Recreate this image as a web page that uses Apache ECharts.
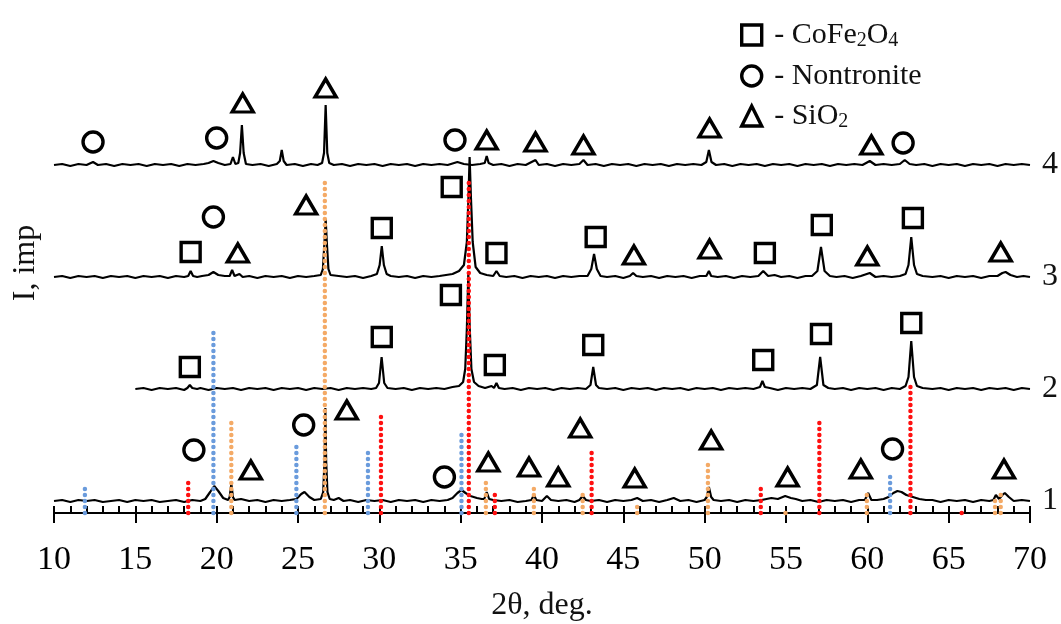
<!DOCTYPE html>
<html>
<head>
<meta charset="utf-8">
<script src="https://cdn.jsdelivr.net/npm/echarts@6/dist/echarts.min.js"></script>
<style>html,body{margin:0;padding:0;background:#fff;}#chart{width:1061px;height:624px;}</style>
</head>
<body>
<div id="chart"></div>
<script>
// ---- axis ----
const xTickLabels = [10, 15, 20, 25, 30, 35, 40, 45, 50, 55, 60, 65, 70];

// ---- trace names and vertical stacking offsets (intensity units) ----
const traceNames = ['1', '2', '3', '4'];
const traceOffsets = [12, 124, 236, 348];

// ---- diffractograms: [2theta, intensity above own baseline] ----
const trace1 = [[10,0],[10.5,1],[11,-1],[11.5,1],[12,0],[12.5,1],[13,-1],[13.5,0],[14,1],[14.5,-1],[15,1],[15.5,0],[16,1],[16.5,-1],[17,0],[17.5,1],[18,-1],[18.5,1],[19,0],[19.3,2],[19.6,9],[19.85,15],[20.1,10],[20.4,3],[20.7,1],[20.8,4],[20.9,17],[21.0,4],[21.1,1],[21.5,2],[22,0],[22.5,1],[23,-1],[23.5,1],[24,0],[24.5,1],[24.9,2],[25.2,7],[25.4,9],[25.7,4],[26,1],[26.4,2],[26.55,9],[26.63,40],[26.68,93],[26.73,40],[26.81,9],[26.95,2],[27.2,1],[27.5,3],[27.8,0],[28.2,1],[28.7,-1],[29.2,1],[29.7,0],[30.2,1],[30.7,-1],[31.2,1],[31.7,0],[32.2,1],[32.7,-1],[33.2,1],[33.7,0],[34.2,1],[34.5,3],[34.8,8],[35.05,11],[35.3,8],[35.6,5],[36,3],[36.3,2],[36.45,2],[36.6,9],[36.75,2],[37,1],[37.5,0],[38,1],[38.5,-1],[39,0],[39.35,1],[39.5,6],[39.65,1],[40,0],[40.3,5],[40.55,1],[41,0],[41.5,1],[42,-1],[42.3,1],[42.5,5],[42.7,1],[43,0],[43.5,1],[44,-1],[44.5,1],[45,0],[45.5,1],[45.85,3],[46.2,0],[46.7,1],[47.2,-1],[47.7,1],[48.1,3],[48.5,0],[49,1],[49.5,-1],[50,1],[50.13,4],[50.26,14],[50.4,4],[50.55,1],[51,0],[51.5,1],[52,-1],[52.5,1],[53,0],[53.5,1],[54.1,3],[54.5,2],[54.95,5],[55.3,3],[55.6,2],[56,0],[56.5,1],[57,-1],[57.5,1],[58,0],[58.5,1],[59,-1],[59.5,1],[59.85,1],[60.05,8],[60.25,1],[60.6,1],[61,2],[61.3,4],[61.6,8],[61.85,10],[62.1,9],[62.4,6],[62.8,4],[63.2,2],[63.6,1],[64,1],[64.5,-1],[65,1],[65.5,0],[66,1],[66.5,-1],[67,1],[67.5,0],[67.75,1],[67.9,6],[68.1,2],[68.3,6],[68.45,8],[68.7,4],[69,0],[69.5,1],[70,0]];
const trace2 = [[15,0],[15.5,1],[16,-1],[16.5,1],[17,0],[17.5,1],[18,-1],[18.2,1],[18.35,4],[18.5,1],[18.8,0],[19,1],[19.5,-1],[20,1],[20.5,0],[21,1],[21.5,-1],[22,1],[22.5,0],[23,1],[23.5,-1],[24,1],[24.5,0],[25,1],[25.5,-1],[26,1],[26.5,0],[27,1],[27.5,-1],[28,1],[28.5,0],[29,1],[29.5,0],[29.8,1],[29.98,6],[30.14,32],[30.3,6],[30.5,1],[31,0],[31.5,1],[32,-1],[32.5,1],[33,0],[33.5,1],[34,0],[34.5,2],[34.9,3],[35.15,7],[35.28,20],[35.38,60],[35.47,115],[35.56,60],[35.66,20],[35.82,7],[36.1,3],[36.5,1],[36.9,3],[37.05,1],[37.2,6],[37.35,1],[37.7,0],[38.2,1],[38.7,-1],[39.2,1],[39.7,0],[40.2,1],[40.7,-1],[41.2,1],[41.7,0],[42.2,1],[42.7,0],[42.98,4],[43.15,22],[43.32,4],[43.5,1],[44,0],[44.5,1],[45,-1],[45.5,1],[46,0],[46.5,1],[47,-1],[47.5,1],[48,0],[48.5,1],[49,-1],[49.5,1],[50,0],[50.5,1],[51,-1],[51.5,1],[52,0],[52.5,1],[53,0],[53.4,2],[53.55,8],[53.7,2],[54,1],[54.5,-1],[55,1],[55.5,0],[56,1],[56.5,0],[56.9,4],[57.1,32],[57.3,4],[57.6,1],[58,0],[58.5,1],[59,-1],[59.5,1],[60,0],[60.5,1],[61,-1],[61.5,1],[62,0],[62.35,3],[62.53,12],[62.7,48],[62.87,12],[63.05,3],[63.4,1],[64,0],[64.5,1],[65,-1],[65.5,1],[66,0],[66.5,1],[67,-1],[67.5,1],[68,0],[68.5,1],[69,-1],[69.5,1],[70,0]];
const trace3 = [[10,0],[10.5,1],[11,-1],[11.5,1],[12,0],[12.5,1],[13,-1],[13.5,1],[14,0],[14.5,1],[15,-1],[15.5,1],[16,0],[16.5,1],[17,-1],[17.5,1],[18,0],[18.25,1],[18.4,6],[18.55,1],[18.8,0],[19.1,1],[19.5,2],[19.8,5],[20.1,2],[20.5,1],[20.8,1],[20.95,7],[21.1,1],[21.4,3],[21.6,0],[22,1],[22.5,-1],[23,1],[23.5,0],[24,1],[24.5,-1],[25,1],[25.5,0],[26,1],[26.4,2],[26.53,8],[26.63,35],[26.7,58],[26.77,35],[26.87,8],[27,2],[27.5,1],[28,0],[28.5,1],[29,-1],[29.5,1],[29.85,3],[30.02,12],[30.15,31],[30.28,12],[30.45,3],[30.7,1],[31.2,0],[31.7,1],[32.2,-1],[32.7,1],[33.2,0],[33.7,1],[34.1,2],[34.5,3],[34.9,6],[35.2,12],[35.38,35],[35.48,80],[35.55,120],[35.63,80],[35.74,35],[35.92,10],[36.2,4],[36.6,2],[37,1],[37.2,6],[37.4,1],[37.8,0],[38.3,1],[38.8,-1],[39.3,1],[39.8,0],[40.3,1],[40.8,-1],[41.3,1],[41.8,0],[42.3,1],[42.8,1],[43.03,8],[43.2,23],[43.37,8],[43.6,1],[44,0],[44.5,1],[45,-1],[45.4,1],[45.6,4],[45.8,1],[46.2,0],[46.7,1],[47.2,-1],[47.7,1],[48.2,0],[48.7,1],[49.2,-1],[49.7,1],[50.1,1],[50.26,6],[50.4,1],[50.8,0],[51.3,1],[51.8,-1],[52.3,1],[52.8,0],[53.3,1],[53.6,6],[53.9,1],[54.3,2],[54.7,0],[55.2,1],[55.7,-1],[56.2,1],[56.6,1],[56.93,6],[57.15,30],[57.37,6],[57.7,1],[58.1,0],[58.6,1],[59.1,-1],[59.6,1],[60.15,4],[60.5,0],[61,1],[61.5,0],[62,1],[62.35,3],[62.53,12],[62.7,40],[62.87,12],[63.05,3],[63.4,1],[64,0],[64.5,1],[65,-1],[65.5,1],[66,0],[66.5,1],[67,-1],[67.5,1],[68,1],[68.3,4],[68.5,5],[68.8,2],[69.2,0],[69.6,1],[70,0]];
const trace4 = [[10,0],[10.5,1],[11,-1],[11.5,1],[12,0],[12.4,3],[12.7,0],[13.2,1],[13.7,-1],[14.2,1],[14.7,0],[15.2,1],[15.7,-1],[16.2,1],[16.7,0],[17.2,1],[17.7,-1],[18.2,1],[18.7,0],[19.2,1],[19.5,2],[19.8,4],[20.1,2],[20.5,0],[20.85,1],[21.0,8],[21.15,1],[21.33,2],[21.44,12],[21.55,40],[21.66,12],[21.8,1],[22.2,0],[22.7,1],[23.2,-1],[23.7,1],[23.88,4],[24.0,15],[24.12,4],[24.3,0],[24.8,1],[25.3,-1],[25.8,1],[26.2,0],[26.48,2],[26.6,12],[26.7,60],[26.8,12],[26.92,2],[27.2,0],[27.7,1],[28.2,-1],[28.7,1],[29.2,0],[29.7,1],[30.2,-1],[30.7,1],[31.2,0],[31.7,1],[32.2,-1],[32.7,1],[33.2,0],[33.7,1],[34.2,0],[34.8,3],[35.2,1],[35.7,0],[36.2,1],[36.48,2],[36.6,9],[36.72,2],[37,0],[37.5,1],[38,-1],[38.5,1],[39,0],[39.6,5],[39.8,0],[40.3,1],[40.8,-1],[41.3,1],[41.8,0],[42.3,1],[42.55,5],[42.8,0],[43.3,1],[43.8,-1],[44.3,1],[44.8,0],[45.3,1],[45.8,-1],[46.3,1],[46.8,0],[47.3,1],[47.8,-1],[48.3,1],[48.8,0],[49.3,1],[49.8,0],[50.1,3],[50.26,15],[50.42,3],[50.7,0],[51.2,1],[51.7,-1],[52.2,1],[52.7,0],[53.2,1],[53.7,-1],[54.2,1],[54.7,0],[55.2,1],[55.7,-1],[56.2,1],[56.7,0],[57.2,1],[57.7,-1],[58.2,1],[58.7,0],[59.2,1],[59.7,0],[60.15,4],[60.5,0],[61,1],[61.5,0],[62,1],[62.3,5],[62.6,1],[63,0],[63.5,1],[64,-1],[64.5,1],[65,0],[65.5,1],[66,-1],[66.5,1],[67,0],[67.5,1],[68,-1],[68.5,1],[69,0],[69.5,1],[70,0]];

// ---- reference (card) lines: [2theta, height from axis] ----
const refBlue = [[11.9,25],[19.8,184],[24.9,67],[29.3,66],[35.05,82],[61.4,41]];
const refOrange = [[20.9,92],[26.65,336],[36.55,36],[39.5,30],[42.5,22],[45.85,11],[50.2,54],[54.97,6],[59.97,22],[67.85,18],[68.2,22]];
const refRed = [[18.25,31],[30.1,98],[35.5,333],[37.1,24],[43.05,63],[53.45,25],[57.05,96],[62.65,128],[65.8,5]];

// ---- phase markers: [2theta, intensity] ----
const cofeMarks = [[18.4,261],[30.15,285],[34.45,326],[37.2,260],[43.3,276],[53.7,260],[57.2,288],[62.8,295],
  [18.35,146],[30.15,176],[34.4,218],[37.1,148],[43.15,168],[53.6,153],[57.15,179],[62.7,190]];
const nontroniteMarks = [[12.4,371],[20.0,375],[34.65,373],[62.2,370],[19.8,296],
  [18.6,63],[25.35,88],[34.0,36],[61.55,64]];
const sio2Marks = [[21.6,410],[26.7,425],[36.6,373],[39.6,371],[42.55,368],[50.3,385],[60.25,368],
  [21.3,260],[25.5,308],[45.65,258],[50.3,264],[60.0,257],[68.2,261],
  [22.1,43],[28.0,103],[36.7,51],[39.2,46],[41.0,36],[42.35,85],[45.7,35],[50.4,73],[55.1,36],[59.6,44],[68.4,44]];

const FONT = "'Liberation Serif','Times New Roman',serif";
const traces = [trace1, trace2, trace3, trace4];

const lineSeries = traces.map((t, i) => ({
  type: 'line',
  name: 'trace' + traceNames[i],
  data: t.map(p => [p[0], p[1] + traceOffsets[i]]),
  showSymbol: false,
  symbol: 'none',
  lineStyle: { color: '#000', width: 2.2 },
  z: 2,
  silent: true,
  animation: false,
  endLabel: {
    show: true,
    formatter: traceNames[i],
    color: '#111',
    fontFamily: FONT,
    fontSize: 32,
    distance: 12
  }
}));

function stickSeries(data, color) {
  return {
    type: 'custom',
    data: data,
    z: 3,
    silent: true,
    animation: false,
    renderItem: function (params, api) {
      const p0 = api.coord([api.value(0), 0]);
      const p1 = api.coord([api.value(0), api.value(1)]);
      return {
        type: 'line',
        shape: { x1: p0[0], y1: p0[1], x2: p1[0], y2: p1[1] },
        style: { stroke: color, lineWidth: 4.5, lineDash: [0, 6], lineCap: 'round' }
      };
    }
  };
}

function markSeries(name, data, symbol, size) {
  return {
    type: 'scatter',
    name: name,
    data: data,
    symbol: symbol,
    symbolSize: size,
    z: 4,
    animation: false,
    itemStyle: { color: 'rgba(255,255,255,0)', borderColor: '#000', borderWidth: 3.4, opacity: 1 }
  };
}

const chart = echarts.init(document.getElementById('chart'), null, { renderer: 'canvas' });
chart.setOption({
  backgroundColor: '#fff',
  animation: false,
  grid: { left: 54, right: 31, top: 13, bottom: 111, containLabel: false, outerBoundsMode: 'none' },
  legend: {
    orient: 'vertical',
    left: 735,
    top: 15,
    itemWidth: 20,
    itemHeight: 20,
    itemGap: 10,
    selectedMode: false,
    data: ['CoFe2O4', 'Nontronite', 'SiO2'],
    itemStyle: { color: 'rgba(255,255,255,0)', borderColor: '#000', borderWidth: 3.4, opacity: 1 },
    formatter: function (name) {
      if (name === 'CoFe2O4') return ' - CoFe{s|2}O{s|4}';
      if (name === 'SiO2') return ' - SiO{s|2}';
      return ' - ' + name;
    },
    textStyle: {
      fontFamily: FONT,
      fontSize: 30,
      color: '#111',
      rich: { s: { fontFamily: FONT, fontSize: 20, color: '#111', padding: [12, 0, 0, 0] } }
    }
  },
  xAxis: [{
    type: 'value',
    min: xTickLabels[0],
    max: xTickLabels[xTickLabels.length - 1],
    interval: 5,
    position: 'bottom',
    axisLine: { show: true, onZero: false, lineStyle: { color: '#000', width: 2 } },
    axisTick: { show: true, inside: true, length: 7, lineStyle: { color: '#000', width: 2 } },
    minorTick: { show: true, splitNumber: 5, length: 7, lineStyle: { color: '#000', width: 2 } },
    splitLine: { show: false },
    axisLabel: { show: true, margin: 30, color: '#000', fontFamily: FONT, fontSize: 34,
      formatter: v => String(v) },
    name: '2θ, deg.',
    nameLocation: 'middle',
    nameGap: 77,
    nameTextStyle: { fontFamily: FONT, fontSize: 32, color: '#111' }
  }, {
    type: 'value',
    min: xTickLabels[0],
    max: xTickLabels[xTickLabels.length - 1],
    interval: 5,
    position: 'bottom',
    axisLine: { show: false, onZero: false },
    axisTick: { show: true, inside: false, length: 10, lineStyle: { color: '#000', width: 2 } },
    axisLabel: { show: false },
    splitLine: { show: false }
  }],
  yAxis: {
    type: 'value',
    min: 0,
    max: 500,
    axisLine: { show: false },
    axisTick: { show: false },
    axisLabel: { show: false },
    splitLine: { show: false },
    name: 'I, imp',
    nameLocation: 'middle',
    nameGap: 12,
    nameRotate: 90,
    nameTextStyle: { fontFamily: FONT, fontSize: 32, color: '#111' }
  },
  series: [
    ...lineSeries,
    stickSeries(refBlue, '#6A9BDC'),
    stickSeries(refOrange, '#F4AA66'),
    stickSeries(refRed, '#FF1010'),
    markSeries('CoFe2O4', cofeMarks, 'rect', 19),
    markSeries('Nontronite', nontroniteMarks, 'circle', 20),
    markSeries('SiO2', sio2Marks, 'triangle', [21, 18])
  ]
});
</script>
</body>
</html>
